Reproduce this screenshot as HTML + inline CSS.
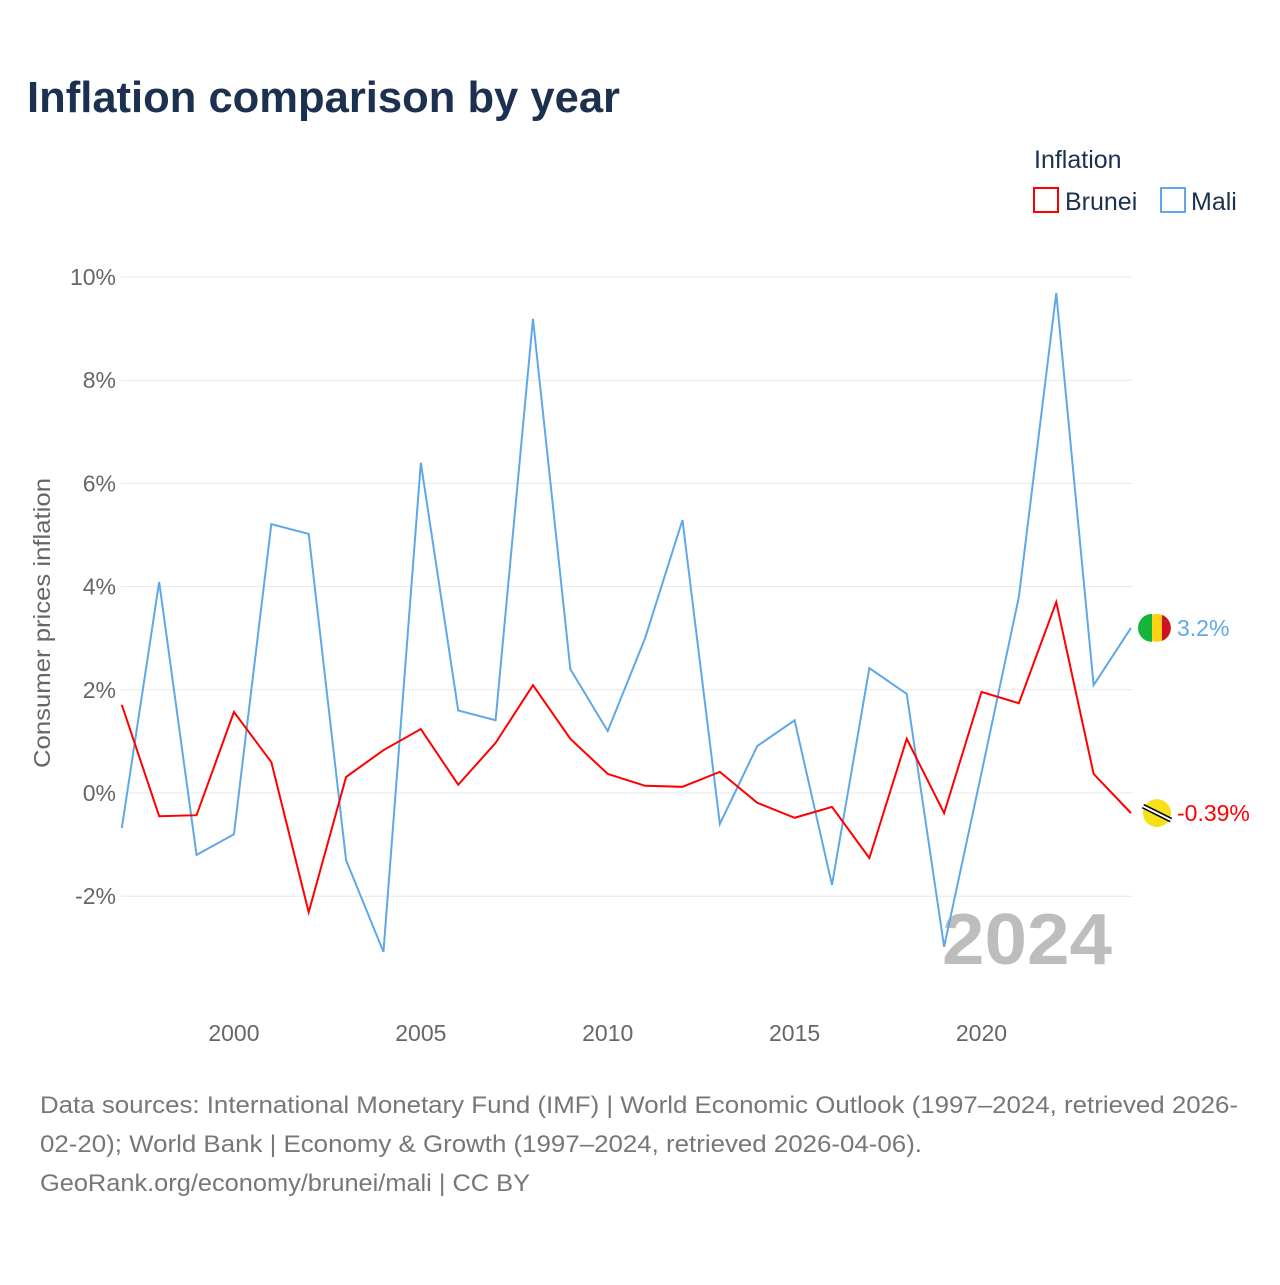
<!DOCTYPE html>
<html><head><meta charset="utf-8"><style>
body{margin:0;background:#fff;font-family:"Liberation Sans",sans-serif;}
svg text{font-family:"Liberation Sans",sans-serif;}
</style></head><body>
<svg id="c" width="1280" height="1280" xmlns="http://www.w3.org/2000/svg">
<text x="27" y="112" font-size="44" font-weight="bold" fill="#1c3050" textLength="593" lengthAdjust="spacingAndGlyphs">Inflation comparison by year</text>
<text x="1034" y="168" font-size="25" fill="#1c3050">Inflation</text>
<g><rect x="1034" y="188" width="24" height="24" fill="none" stroke="#ff0000" stroke-width="2"/><text x="1065" y="210" font-size="25" fill="#1c3050">Brunei</text></g>
<g><rect x="1161" y="188" width="24" height="24" fill="none" stroke="#5fa8e8" stroke-width="2"/><text x="1191" y="210" font-size="25" fill="#1c3050">Mali</text></g>
<text transform="translate(50,623) rotate(-90)" text-anchor="middle" font-size="23" fill="#666" textLength="290" lengthAdjust="spacingAndGlyphs">Consumer prices inflation</text>
<g id="grid"></g><g id="xt"></g>
<text x="942" y="964" font-size="72" font-weight="bold" fill="#bdbdbd" textLength="170" lengthAdjust="spacingAndGlyphs">2024</text>
<g id="series"></g>
<text x="40" y="1113" font-size="24" fill="#777" textLength="1198" lengthAdjust="spacingAndGlyphs">Data sources: International Monetary Fund (IMF) | World Economic Outlook (1997–2024, retrieved 2026-</text>
<text x="40" y="1152" font-size="24" fill="#777" textLength="882" lengthAdjust="spacingAndGlyphs">02-20); World Bank | Economy &amp; Growth (1997–2024, retrieved 2026-04-06).</text>
<text x="40" y="1191" font-size="24" fill="#777" textLength="490" lengthAdjust="spacingAndGlyphs">GeoRank.org/economy/brunei/mali | CC BY</text>
</svg>
<script>
const years=[1997,1998,1999,2000,2001,2002,2003,2004,2005,2006,2007,2008,2009,2010,2011,2012,2013,2014,2015,2016,2017,2018,2019,2020,2021,2022,2023,2024];
const mali=[-0.68,4.09,-1.2,-0.8,5.21,5.02,-1.3,-3.08,6.4,1.6,1.41,9.19,2.4,1.2,3.0,5.29,-0.6,0.91,1.41,-1.78,2.42,1.92,-2.98,0.39,3.8,9.69,2.09,3.2];
const brunei=[1.71,-0.45,-0.43,1.57,0.6,-2.31,0.31,0.83,1.24,0.16,0.97,2.09,1.05,0.37,0.14,0.12,0.41,-0.19,-0.48,-0.27,-1.26,1.05,-0.39,1.96,1.74,3.7,0.37,-0.39];
const yTicks=[-2,0,2,4,6,8,10];
const xTicks=[2000,2005,2010,2015,2020];
const NS='http://www.w3.org/2000/svg';
const X=y=>121.8+(y-1997)*(1131-121.8)/27;
const Y=v=>793-v*51.6;
function mk(t,a,p){const e=document.createElementNS(NS,t);for(const k in a)e.setAttribute(k,a[k]);p.appendChild(e);return e;}
const g=document.getElementById('grid');
yTicks.forEach(v=>{
 const l=mk('line',{x1:121,x2:1133,y1:Y(v),y2:Y(v),stroke:'#e8e8e8','stroke-width':1},g);
 
 
 const t=mk('text',{x:116,y:Y(v)+8,'text-anchor':'end','font-size':23,fill:'#666'},g);
 t.textContent=v+'%';
 
 
});
const xt=document.getElementById('xt');
xTicks.forEach(y=>{
 const t=mk('text',{x:X(y),y:1041,'text-anchor':'middle','font-size':23,fill:'#666'},xt);
 t.textContent=y;
 
 
});
const s=document.getElementById('series');
function line(vals,col,name){
 const p=mk('polyline',{points:vals.map((v,i)=>X(years[i])+','+Y(v)).join(' '),fill:'none',stroke:col,'stroke-width':2},s);
 
 
 const lv=vals[vals.length-1],ly=Y(lv),cx=X(years[years.length-1])+26;
 const c=mk('circle',{cx:cx,cy:ly,r:14,fill:name=='mali'?'#fcd116':'#f7e017'},s);
 
 
 if(name=='mali'){mk('path',{d:`M${cx-5},${ly-14}A14,14 0 0 0 ${cx-5},${ly+14}Z`,fill:'#14b53a'},s);mk('path',{d:`M${cx+5},${ly-13}A14,14 0 0 1 ${cx+5},${ly+13}Z`,fill:'#ce1126'},s);}
 else{mk('line',{x1:cx-14,y1:ly-7,x2:cx+14,y2:ly+7,stroke:'#000','stroke-width':5},s);mk('line',{x1:cx-14,y1:ly-7,x2:cx+14,y2:ly+7,stroke:'#fff','stroke-width':2},s);}
 const t=mk('text',{x:cx+20,y:ly+8,'font-size':23,fill:col},s);
 t.textContent=(name=='mali'?lv.toFixed(1):lv.toFixed(2))+'%';
 
 
}
line(mali,'#5fa8e8','mali');
line(brunei,'#ff0000','brunei');
</script>
</body></html>
